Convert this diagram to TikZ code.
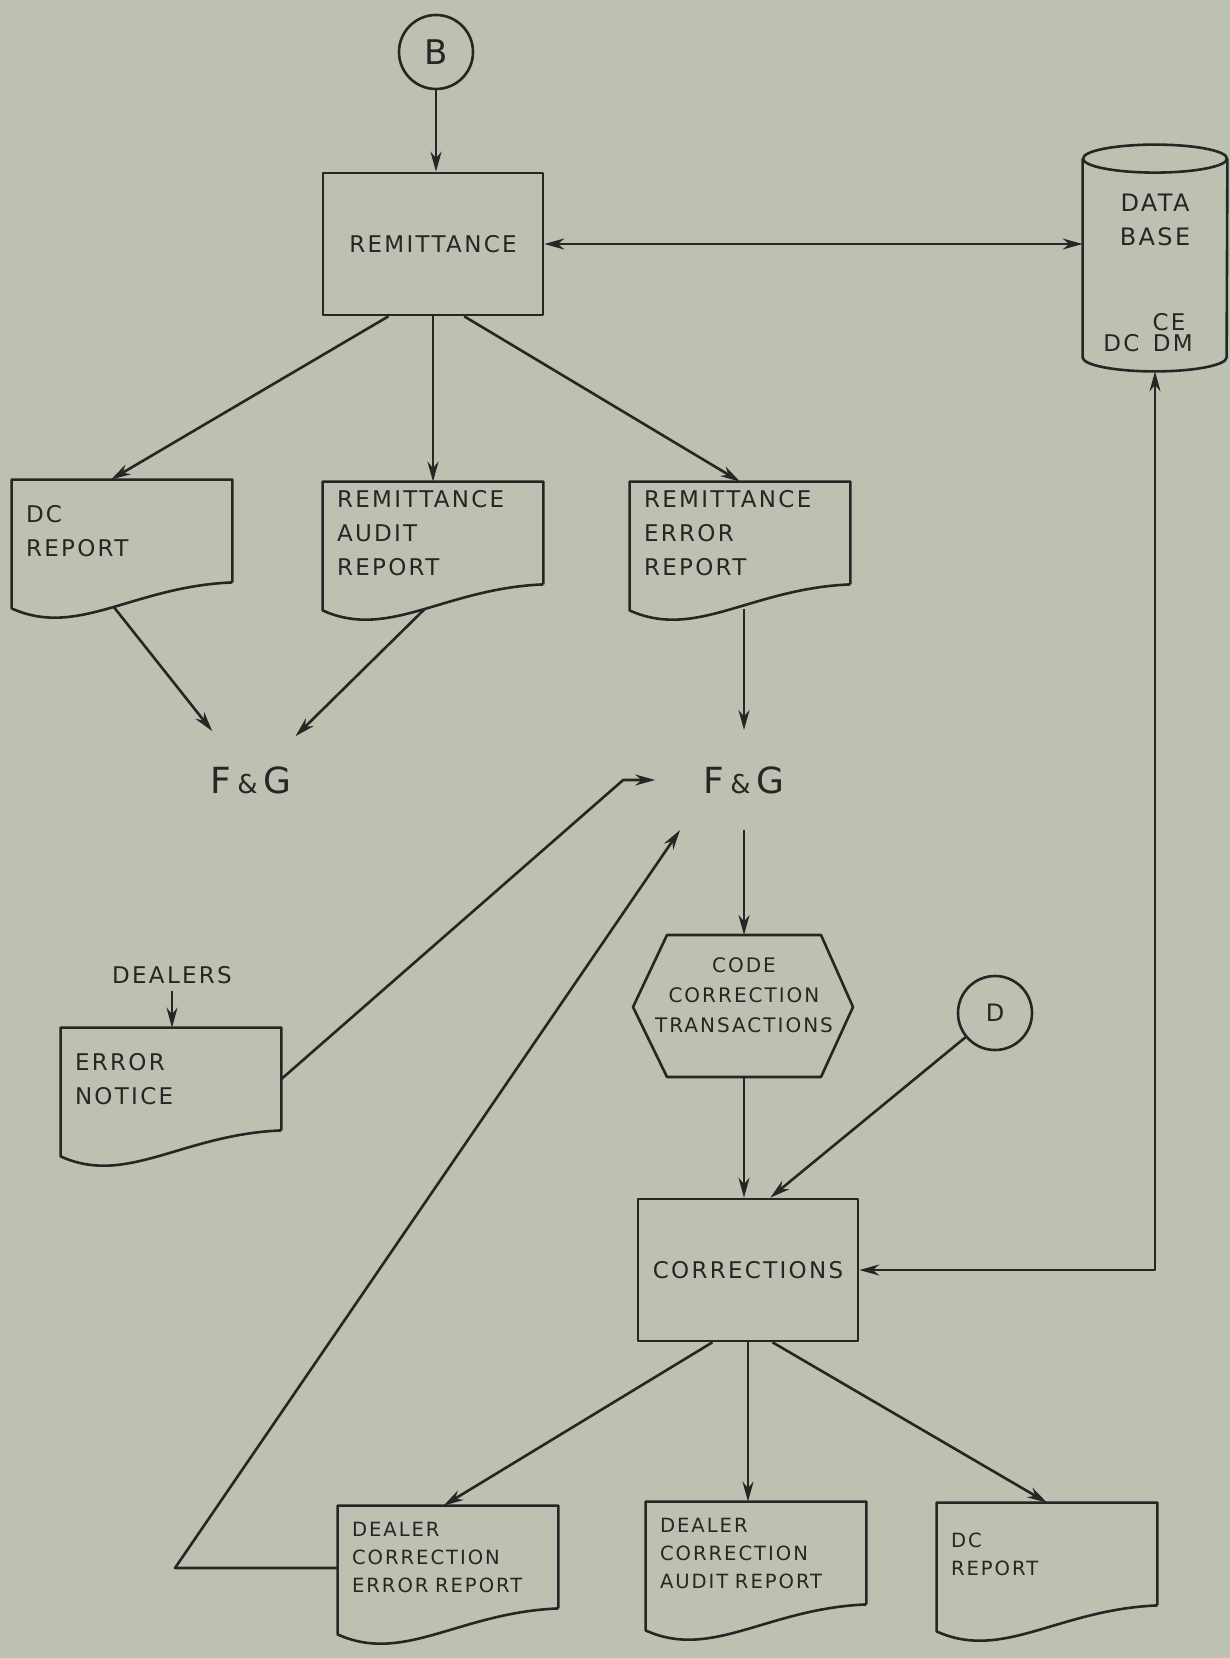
\documentclass[tikz,border=0pt]{standalone}
\usepackage{fontspec}
\setmainfont{DejaVu Sans}[LetterSpace=10]
\usetikzlibrary{arrows.meta,calc}
\definecolor{paper}{RGB}{189,193,178}
\definecolor{ink}{RGB}{38,38,36}

% report symbol: box with a wavy lower edge round a named node
\newcommand{\docwave}[1]{%
  \draw[pen] (#1.south east) -- (#1.north east) -- (#1.north west)
    -- ($(#1.south west)+(0,-13pt)$)
    .. controls ($(#1.south west)!.3!(#1.south east)+(0,-28pt)$)
            and ($(#1.south west)!.55!(#1.south east)+(0,-2pt)$) .. (#1.south east)
    coordinate[pos=.52] (#1-wave);
}

\begin{document}
\begin{tikzpicture}[x=0.5pt, y=-0.5pt,
    pen/.style={draw=ink, line width=1.3pt, line join=round},
    arr/.style={pen, -{Stealth[length=10pt,width=5.5pt]}},
    dblarr/.style={pen, {Stealth[length=10pt,width=5.5pt]}-{Stealth[length=10pt,width=5.5pt]}},
    procbox/.style={pen, rectangle, minimum width=110pt, minimum height=71pt, inner sep=0pt},
    docbox/.style={rectangle, minimum width=110pt, minimum height=51pt,
                   inner xsep=7pt, inner ysep=0pt, text width=96pt, align=left},
    connector/.style={pen, circle, minimum size=37pt, inner sep=0pt},
    bigtxt/.style={font=\fontsize{11.5}{17}\selectfont},
    smalltxt/.style={font=\fontsize{9.8}{14}\selectfont},
    fgtxt/.style={font=\fontsize{18}{18}\selectfont},
    every node/.style={text=ink}]

  \fill[paper] (0,0) rectangle (1230,1658);
  \useasboundingbox (0,0) rectangle (1230,1658);

  % upper half
  \node[connector, font=\fontsize{17}{17}\selectfont] (B) at (436,52) {B};
  \node[procbox, bigtxt] (rem) at (433,244) {REMITTANCE};

  \node[minimum width=72pt, minimum height=99pt, inner sep=0pt] (db) at (1155,258) {};
  \draw[pen] (db.north west) -- (db.south west)
    arc[start angle=180, end angle=360, x radius=36pt, y radius=7pt] -- (db.north east);
  \draw[pen] (db.north) ellipse[x radius=36pt, y radius=7pt];
  \coordinate (dbbot) at ($(db.south)+(0,-7pt)$);
  \node[align=center, font=\fontsize{12}{17}\selectfont] (dbname) at (1155,220) {DATA\\BASE};
  \node[bigtxt] (dbce) at (1169,322) {CE};
  \node[bigtxt] (dbdcdm) at (1148,343) {DC\ \,DM};

  \node[docbox, bigtxt] (dcrep) at (122,531) {DC\\REPORT};
  \docwave{dcrep}
  \node[docbox, bigtxt] (audrep) at (433,533) {REMITTANCE\\AUDIT\\REPORT};
  \docwave{audrep}
  \node[docbox, bigtxt] (errrep) at (740,533) {REMITTANCE\\ERROR\\REPORT};
  \docwave{errrep}

  \node[circle, minimum size=62pt, inner sep=0pt, fgtxt] (fg1) at (251,780)
    {F\,{\fontsize{13}{13}\selectfont\&}\,G};
  \node[inner xsep=24pt, inner ysep=18pt, fgtxt] (fg2) at (744,780)
    {F\,{\fontsize{13}{13}\selectfont\&}\,G};

  % lower half
  \node[align=center, font=\fontsize{10}{15}\selectfont] (code) at (744,995)
    {CODE\\CORRECTION\\TRANSACTIONS};
  \draw[pen] ($(code)+(-38.5pt,30pt)$) -- ($(code)+(38.5pt,30pt)$) -- ($(code)+(54.5pt,-6pt)$)
    -- ($(code)+(38.5pt,-41pt)$) -- ($(code)+(-38.5pt,-41pt)$) -- ($(code)+(-55.5pt,-6pt)$) -- cycle;
  \coordinate (code-top) at ($(code)+(0,30pt)$);
  \coordinate (code-bot) at ($(code)+(0,-41pt)$);

  \node[bigtxt] (dealers) at (172,975) {DEALERS};
  \node[docbox, bigtxt] (errnot) at (171,1079) {ERROR\\NOTICE};
  \docwave{errnot}

  \node[connector, font=\fontsize{12}{12}\selectfont] (D) at (995,1013) {D};
  \node[procbox, bigtxt] (corr) at (748,1270) {CORRECTIONS};

  \node[docbox, smalltxt] (dcerr) at (448,1557) {DEALER\\CORRECTION\\ERROR REPORT};
  \docwave{dcerr}
  \node[docbox, smalltxt] (dcaud) at (756,1553) {DEALER\\CORRECTION\\AUDIT REPORT};
  \docwave{dcaud}
  \node[docbox, smalltxt] (dcrep2) at (1047,1554) {DC\\REPORT};
  \docwave{dcrep2}
  \coordinate (fbcorner) at (175,1568);

  % connectors
  \draw[arr] (B) -- (B |- rem.north);
  \draw[dblarr] (rem.east) -- (rem.east -| db.west);
  \draw[arr] ($(rem.south west)!.3!(rem.south east)$) -- ($(dcrep.north west)!.45!(dcrep.north east)$);
  \draw[arr] (rem.south) -- (rem.south |- audrep.north);
  \draw[arr] ($(rem.south west)!.64!(rem.south east)$) -- (errrep.north);
  \draw[arr] (dcrep-wave) -- (fg1);
  \draw[arr] (audrep-wave) -- (fg1);
  \draw[arr] (fg2.north |- errrep-wave) -- (fg2.north);
  \draw[arr] (fg2.south) -- (code-top);
  \draw[arr] (dealers) -- (dealers.south |- errnot.north);
  \draw[arr] (errnot.east) -- ([xshift=-16pt]fg2.west) -- (fg2.west);
  \draw[arr] (dcerr.west |- fbcorner) -- (fbcorner) -- (fg2.-142);
  \draw[arr] (code-bot) -- (code-bot |- corr.north);
  \draw[arr] (D) -- ($(corr.north west)!.6!(corr.north east)$);
  \draw[dblarr] (dbbot) |- (corr.east);
  \draw[arr] ($(corr.south west)!.34!(corr.south east)$) -- ($(dcerr.north west)!.48!(dcerr.north east)$);
  \draw[arr] (corr.south) -- (corr.south |- dcaud.north);
  \draw[arr] ($(corr.south west)!.61!(corr.south east)$) -- (dcrep2.north);
\end{tikzpicture}
\end{document}
